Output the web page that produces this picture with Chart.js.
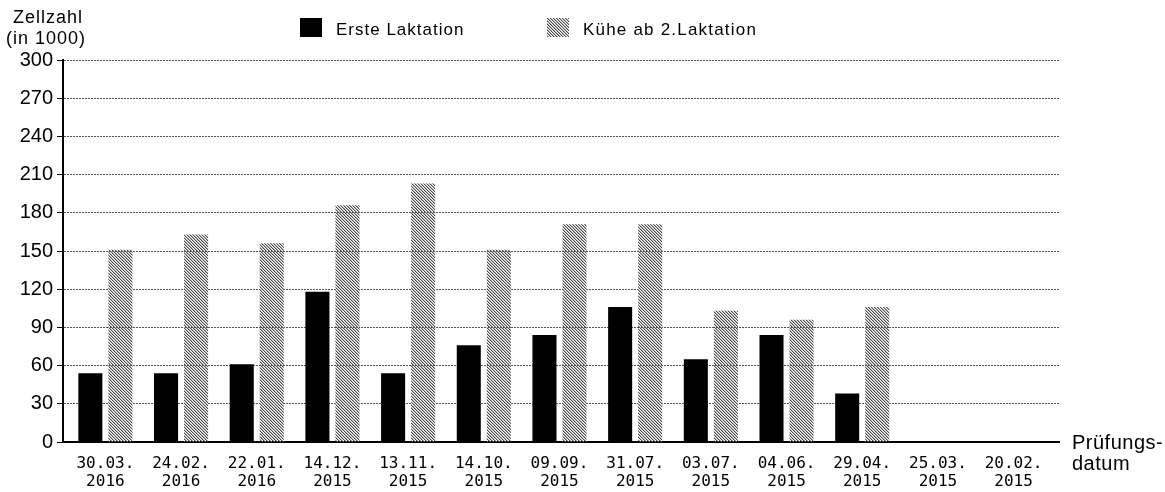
<!DOCTYPE html>
<html>
<head>
<meta charset="utf-8">
<script src="https://cdn.jsdelivr.net/npm/chart.js@4.4.1/dist/chart.umd.min.js"></script>
<style>
  body { margin: 0; background: #fff; }
  #wrap { position: relative; width: 1165px; height: 492px; font-family: "Liberation Sans", Arial, sans-serif; color: #000; }
  #wrap canvas { position: absolute; left: 0; top: 0; }
  .txt { position: absolute; white-space: nowrap; }
  .swatch { position: absolute; width: 22px; height: 19px; }
</style>
</head>
<body>
<div id="wrap">
  <canvas id="cellChart" width="1165" height="492"></canvas>
  <div class="txt" style="left:13px; top:7px; font-size:18px; line-height:21px; letter-spacing:1px;">Zellzahl<br><span style="margin-left:-7px">(in 1000)</span></div>
  <div class="swatch" style="left:300px; top:18px; background:#000;"></div>
  <div class="txt" id="leg1" style="left:336px; top:21px; font-size:17px; line-height:17px; letter-spacing:1px;"></div>
  <canvas class="swatch" id="hatchSwatch" width="22" height="19" style="left:547px; top:18px;"></canvas>
  <div class="txt" id="leg2" style="left:583px; top:21px; font-size:17px; line-height:17px; letter-spacing:1.2px;"></div>
  <div class="txt" style="left:1072px; top:432px; font-size:20px; line-height:21px; letter-spacing:0.5px;">Prüfungs-<br>datum</div>
</div>
<script>
// Prüfungsdaten (x-Achse), neuestes zuerst
const testDates = [
  ["30.03.", "2016"], ["24.02.", "2016"], ["22.01.", "2016"], ["14.12.", "2015"],
  ["13.11.", "2015"], ["14.10.", "2015"], ["09.09.", "2015"], ["31.07.", "2015"],
  ["03.07.", "2015"], ["04.06.", "2015"], ["29.04.", "2015"], ["25.03.", "2015"],
  ["20.02.", "2015"]
];

const seriesNames = ["Erste Laktation", "Kühe ab 2.Laktation"];

// Zellzahl in 1000, null = keine Prüfung
const firstLactation = [54, 54, 61, 118, 54, 76, 84, 106, 65, 84, 38, null, null];
const laterLactation = [151, 163, 156, 186, 203, 151, 171, 171, 103, 96, 106, null, null];

const yTicks = [0, 30, 60, 90, 120, 150, 180, 210, 240, 270, 300];

// diagonal hatch for the second series
function makeHatch(ctx) {
  const tile = document.createElement("canvas");
  tile.width = 3;
  tile.height = 3;
  const t = tile.getContext("2d");
  for (let i = 0; i < 3; i++) {
    t.fillStyle = "#4a4a4a";
    t.fillRect(i, i, 1, 1);
    t.fillStyle = "#b4b4b4";
    t.fillRect((i + 1) % 3, i, 1, 1);
  }
  return ctx.createPattern(tile, "repeat");
}

document.getElementById("leg1").textContent = seriesNames[0];
document.getElementById("leg2").textContent = seriesNames[1];

const sw = document.getElementById("hatchSwatch").getContext("2d");
sw.fillStyle = makeHatch(sw);
sw.fillRect(0, 0, 22, 19);

const canvas = document.getElementById("cellChart");
const ctx = canvas.getContext("2d");
const hatch = makeHatch(ctx);

const toPoints = arr => arr.map((v, i) => ({ x: i, y: v }));

new Chart(ctx, {
  type: "bar",
  data: {
    datasets: [
      {
        label: seriesNames[0],
        data: toPoints(firstLactation),
        backgroundColor: "#000000",
        borderWidth: 0
      },
      {
        label: seriesNames[1],
        data: toPoints(laterLactation),
        backgroundColor: hatch,
        borderWidth: 0
      }
    ]
  },
  options: {
    responsive: false,
    animation: false,
    devicePixelRatio: 1,
    categoryPercentage: 0.794,
    barPercentage: 0.8,
    layout: { padding: { left: 0, top: 60, right: 106, bottom: 0 } },
    plugins: {
      legend: { display: false },
      tooltip: { enabled: false }
    },
    scales: {
      x: {
        type: "linear",
        offset: false,
        min: -0.56,
        max: 12.6,
        grid: { display: false },
        border: { display: true, color: "#000", width: 2 },
        afterFit: scale => { scale.height = 50; },
        ticks: {
          stepSize: 1,
          includeBounds: false,
          autoSkip: false,
          maxRotation: 0,
          padding: 5,
          color: "#000",
          font: { family: "DejaVu Sans Mono", size: 16, lineHeight: 1.125 },
          callback: v => testDates[v] || ""
        }
      },
      y: {
        min: 0,
        max: 300,
        afterFit: scale => { scale.width = 63; },
        afterBuildTicks: scale => { scale.ticks = yTicks.map(v => ({ value: v })); },
        grid: {
          color: "#555",
          lineWidth: 1,
          tickLength: 6,
          tickColor: "#000",
          tickBorderDash: []
        },
        border: { display: true, color: "#000", width: 2, dash: [2, 1] },
        ticks: {
          padding: 4,
          color: "#000",
          font: { family: "Liberation Sans", size: 20 }
        }
      }
    }
  }
});
</script>
</body>
</html>
